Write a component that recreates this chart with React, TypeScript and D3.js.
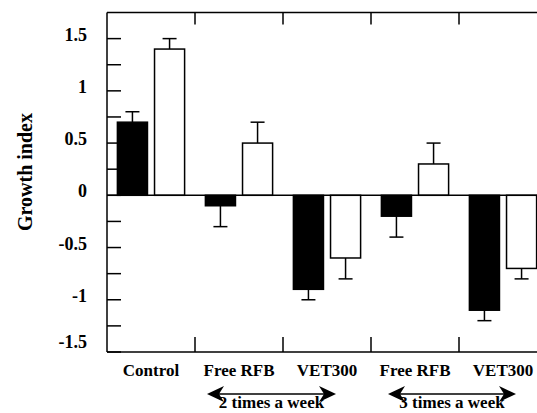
import * as d3 from 'd3';
import React from 'react';

// growth index per treatment, black = first series, white = second series
const categories = ['Control', 'Free RFB', 'VET300', 'Free RFB ', 'VET300 '];
const blackValues = [0.7, -0.1, -0.9, -0.2, -1.1];
const blackErrors = [0.1, 0.2, 0.1, 0.2, 0.1];
const whiteValues = [1.4, 0.5, -0.6, 0.3, -0.7];
const whiteErrors = [0.1, 0.2, 0.2, 0.2, 0.1];
const yTicks = [-1.5, -1, -0.5, 0, 0.5, 1, 1.5];
const yMinorTicks = [-1.25, -0.75, -0.25, 0.25, 0.75, 1.25];
const schedules = ['2 times a week', '3 times a week'];

const W = 537;
const H = 413;
const left = 107;
const top = 12.5;
const bottom = 352;
const font = "'Liberation Serif', 'Times New Roman', serif";

function App() {
  const x = d3.scaleBand().domain(categories).range([left, left + 88 * 5]).padding(0);
  const inner = d3.scaleBand().domain(['b', 'w']).range([0, x.bandwidth()])
    .paddingInner(0.19).paddingOuter(0.28);
  const y = d3.scaleLinear().domain([-1.5, 1.75]).range([bottom, top]);

  const bars = categories.flatMap((c, i) => [
    { c, key: 'b', v: blackValues[i], e: blackErrors[i], fill: '#000' },
    { c, key: 'w', v: whiteValues[i], e: whiteErrors[i], fill: '#fff' },
  ]);

  const arrows = [
    { label: schedules[0], x0: x(categories[1])! + 12, x1: x(categories[2])! + 53 },
    { label: schedules[1], x0: x(categories[3])! + 17, x1: x(categories[4])! + 57 },
  ];

  return (
    <svg width={W} height={H} style={{ position: 'absolute', left: 0, top: 0 }}>
      <rect width={W} height={H} fill="#fff" />
      {bars.map((b, i) => {
        const bx = x(b.c)! + inner(b.key)!;
        const bw = inner.bandwidth();
        const yv = y(b.v);
        const ye = y(b.v > 0 ? b.v + b.e : b.v - b.e);
        const cx = bx + bw / 2;
        return (
          <g key={i}>
            <line x1={cx} x2={cx} y1={yv} y2={ye} stroke="#000" strokeWidth={1.5} />
            <line x1={cx - 7} x2={cx + 7} y1={ye} y2={ye} stroke="#000" strokeWidth={1.5} />
            <rect x={bx} y={Math.min(yv, y(0))} width={bw} height={Math.abs(yv - y(0))}
              fill={b.fill} stroke="#000" strokeWidth={1.5} />
          </g>
        );
      })}
      {/* zero line */}
      <line x1={left} x2={W} y1={y(0)} y2={y(0)} stroke="#000" strokeWidth={1.5} />
      {/* frame */}
      <line x1={left} x2={left} y1={top} y2={bottom} stroke="#000" strokeWidth={1.5} />
      <line x1={left} x2={W} y1={top} y2={top} stroke="#000" strokeWidth={1.5} />
      <line x1={left} x2={W} y1={bottom} y2={bottom} stroke="#000" strokeWidth={1.5} />
      {yTicks.concat(yMinorTicks).map((t) => (
        <line key={'t' + t} x1={left} x2={left + 14} y1={y(t)} y2={y(t)} stroke="#000" strokeWidth={1.5} />
      ))}
      {yTicks.map((t) => (
        <text key={'l' + t} x={87} y={t === -1.5 ? y(t) - 8 : y(t) - 2} textAnchor="end" dominantBaseline="middle"
          fontFamily={font} fontWeight="bold" fontSize={18}>{t}</text>
      ))}
      {categories.slice(1).map((c) => (
        <g key={'g' + c}>
          <line x1={x(c)!} x2={x(c)!} y1={top} y2={top + 12} stroke="#000" strokeWidth={1.5} />
          <line x1={x(c)!} x2={x(c)!} y1={bottom} y2={bottom - 15} stroke="#000" strokeWidth={1.5} />
        </g>
      ))}
      {categories.map((c) => (
        <text key={'x' + c} x={x(c)! + x.bandwidth() / 2} y={376} textAnchor="middle"
          fontFamily={font} fontWeight="bold" fontSize={17}>{c.trim()}</text>
      ))}
      <text transform={`translate(32,172) rotate(-90)`} textAnchor="middle"
        fontFamily={font} fontWeight="bold" fontSize={20}>Growth  index</text>
      {arrows.map((a) => (
        <g key={a.label}>
          <line x1={a.x0 + 10} x2={a.x1 - 10} y1={394} y2={394} stroke="#000" strokeWidth={1.5} />
          <path d={`M${a.x0},394 L${a.x0 + 17},386 L${a.x0 + 12},394 L${a.x0 + 17},402 Z`} fill="#000" />
          <path d={`M${a.x1},394 L${a.x1 - 17},386 L${a.x1 - 12},394 L${a.x1 - 17},402 Z`} fill="#000" />
          <text x={(a.x0 + a.x1) / 2} y={408} textAnchor="middle"
            fontFamily={font} fontWeight="bold" fontSize={17}>{a.label}</text>
        </g>
      ))}
    </svg>
  );
}

export default App;
